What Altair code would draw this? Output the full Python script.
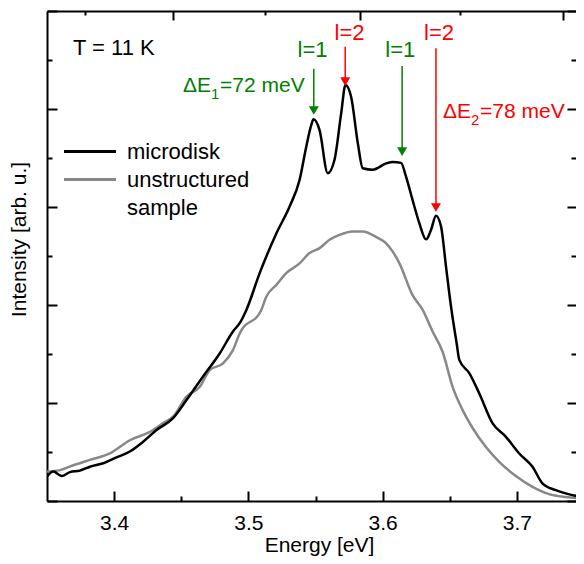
import altair as alt
import pandas as pd

# ---------------- data ----------------
energy_microdisk = [3.3500, 3.3547, 3.3609, 3.3671, 3.3745, 3.3820, 3.3919, 3.4018, 3.4117, 3.4216,
                    3.4316, 3.4439, 3.4539, 3.4662, 3.4786, 3.4885, 3.4935, 3.4985, 3.5084, 3.5208,
                    3.5307, 3.5381, 3.5431, 3.5468, 3.5485, 3.5530, 3.5591, 3.5641, 3.5691, 3.5723,
                    3.5765, 3.5815, 3.5852, 3.5926, 3.6026, 3.6075, 3.6137, 3.6174, 3.6223, 3.6273,
                    3.6323, 3.6360, 3.6397, 3.6435, 3.6472, 3.6509, 3.6551, 3.6571, 3.6645, 3.6719,
                    3.6818, 3.6918, 3.7017, 3.7116, 3.7190, 3.7290, 3.7413, 3.7493]
intensity_microdisk = [0.50, 0.60, 0.51, 0.59, 0.62, 0.70, 0.77, 0.89, 1.01, 1.21,
                       1.45, 1.69, 2.06, 2.54, 3.01, 3.46, 3.63, 3.90, 4.65, 5.46,
                       6.01, 6.55, 7.23, 7.67, 7.79, 7.57, 6.69, 6.96, 7.91, 8.49,
                       8.25, 7.30, 6.79, 6.76, 6.89, 6.92, 6.90, 6.62, 6.14, 5.67,
                       5.34, 5.53, 5.82, 5.60, 4.78, 3.97, 3.22, 2.88, 2.61, 2.20,
                       1.59, 1.31, 0.97, 0.70, 0.36, 0.22, 0.12, 0.08]

energy_unstructured = [3.3500, 3.3597, 3.3696, 3.3820, 3.3968, 3.4117, 3.4266, 3.4365, 3.4439, 3.4539,
                       3.4638, 3.4712, 3.4811, 3.4885, 3.4935, 3.5096, 3.5133, 3.5208, 3.5282, 3.5381,
                       3.5455, 3.5530, 3.5604, 3.5678, 3.5777, 3.5852, 3.5951, 3.6026, 3.6075, 3.6125,
                       3.6223, 3.6298, 3.6372, 3.6447, 3.6521, 3.6595, 3.6670, 3.6769, 3.6868, 3.6992,
                       3.7116, 3.7240, 3.7364, 3.7493]
intensity_unstructured = [0.60, 0.63, 0.73, 0.84, 0.97, 1.24, 1.41, 1.59, 1.72, 2.13,
                          2.33, 2.67, 2.81, 3.08, 3.42, 3.90, 4.17, 4.41, 4.65, 4.85,
                          5.06, 5.16, 5.33, 5.43, 5.50, 5.50, 5.39, 5.26, 5.09, 4.85,
                          4.20, 3.90, 3.46, 3.04, 2.33, 1.86, 1.49, 1.10, 0.80, 0.51,
                          0.29, 0.14, 0.08, 0.05]

series_names = ["microdisk", "unstructured sample"]

# axis ticks (the original frame runs past the right edge of the picture)
x_domain = [3.35, 3.744]
x_major = [3.4, 3.5, 3.6, 3.7]
x_minor = [3.45, 3.55, 3.65]
top_major_nm = [360, 346, 332]
top_minor_nm = [367, 353, 339]
y_major = [0, 2, 4, 6, 8, 10]
y_minor = [1, 3, 5, 7, 9]

# annotations: mode arrows
arrow_energy = [3.5487, 3.5721, 3.6145, 3.6397]
arrow_top = [8.82, 9.27, 8.88, 9.24]
arrow_tip = [7.88, 8.47, 7.04, 5.90]
arrow_color = ["#008000", "#ff0000", "#008000", "#ff0000"]
mode_label = ["l=1", "l=2", "l=1", "l=2"]
mode_label_energy = [3.5478, 3.5753, 3.6131, 3.6420]
mode_label_level = [9.20, 9.56, 9.20, 9.56]

# annotations: splitting labels
delta_energy = [3.4513, 3.6450]
delta_level = [8.35, 7.81]
delta_main = ["\u0394E", "\u0394E"]
delta_sub = ["1", "2"]
delta_rest = ["=72 meV", "=78 meV"]
delta_color = ["#008000", "#ff0000"]

temp_label = ["T = 11 K"]
temp_energy = [3.3693]
temp_level = [9.10]

# ---------------- tables ----------------
curves = pd.concat([
    pd.DataFrame({"energy": energy_microdisk, "intensity": intensity_microdisk, "series": series_names[0]}),
    pd.DataFrame({"energy": energy_unstructured, "intensity": intensity_unstructured, "series": series_names[1]}),
])
arrows = pd.DataFrame({"energy": arrow_energy, "top": arrow_top, "tip": arrow_tip, "color": arrow_color})
arrows["head"] = arrows["tip"] + 0.09
modes = pd.DataFrame({"energy": mode_label_energy, "level": mode_label_level, "text": mode_label,
                      "color": arrow_color})
deltas = pd.DataFrame({"energy": delta_energy, "level": delta_level, "main": delta_main,
                       "sub": delta_sub, "rest": delta_rest, "color": delta_color})
temp = pd.DataFrame({"energy": temp_energy, "level": temp_level, "text": temp_label})

FONT = "Liberation Sans"
W, H = 529, 490

x_scale = alt.Scale(domain=x_domain, nice=False, zero=False)
y_scale = alt.Scale(domain=[0, 10], nice=False, zero=False)


def tick_axis(orient, offset, values, size):
    return alt.Axis(orient=orient, offset=offset, values=values, ticks=True, tickSize=size,
                    tickColor="black", tickWidth=2, domain=False, labels=False, grid=False, title=None)


x_main = alt.Axis(orient="bottom", values=x_major, format=".1f", domain=True, domainColor="black",
                  domainWidth=2, ticks=False, tickSize=0, labels=True, labelFont=FONT, labelFontSize=21,
                  labelColor="black", labelPadding=11, grid=False, title="Energy [eV]", titleFont=FONT,
                  titleFontSize=21, titleFontWeight="normal", titleColor="black", titleX=272, titleY=50,
                  titleBaseline="alphabetic", titleAlign="center")
y_main = alt.Axis(orient="left", domain=True, domainColor="black", domainWidth=2, ticks=False, labels=False,
                  grid=False, title="Intensity [arb. u.]", titleFont=FONT, titleFontSize=21,
                  titleFontWeight="normal", titleColor="black", titleX=-27.5, titleY=228, titleAngle=270,
                  titleBaseline="middle", titleAlign="center")
x_top_domain = alt.Axis(orient="top", domain=True, domainColor="black", domainWidth=2, ticks=False,
                        labels=False, grid=False, title=None)

top_major_e = [round(1239.84 / v, 4) for v in top_major_nm]
top_minor_e = [round(1239.84 / v, 4) for v in top_minor_nm]

color_scale = alt.Scale(domain=series_names + ["sample"], range=["black", "#888888", "transparent"])
legend = alt.Legend(orient="none", legendX=32, legendY=129.5, title=None, symbolType="M-4,0L4,0",
                    symbolSize=169, symbolStrokeWidth=3, symbolOffset=0, labelFont=FONT, labelFontSize=22,
                    labelColor="black", labelOffset=26, rowPadding=6, padding=0,
                    labelExpr="datum.label == 'unstructured sample' ? 'unstructured' : datum.label")

gray_line = alt.Chart(curves).transform_filter(alt.datum.series == series_names[1]).mark_line(
    strokeWidth=2.5, interpolate="monotone", clip=True).encode(
    x=alt.X("energy:Q", scale=x_scale, axis=x_main),
    y=alt.Y("intensity:Q", scale=y_scale, axis=y_main),
    color=alt.Color("series:N", scale=color_scale, legend=legend),
)
black_line = alt.Chart(curves).transform_filter(alt.datum.series == series_names[0]).mark_line(
    strokeWidth=2.5, interpolate="monotone", clip=True).encode(
    x=alt.X("energy:Q", scale=x_scale, axis=x_top_domain),
    y=alt.Y("intensity:Q", scale=y_scale, axis=tick_axis("right", -W, y_major, 10)),
    color=alt.Color("series:N", scale=color_scale, legend=legend),
)
arrow_rules = alt.Chart(arrows).mark_rule(strokeWidth=1.5).encode(
    x=alt.X("energy:Q", scale=x_scale, axis=tick_axis("top", -H, x_major, 10)),
    y=alt.Y("top:Q", scale=y_scale, axis=tick_axis("right", -W, y_minor, 5)),
    y2="head:Q",
    color=alt.Color("color:N", scale=None),
)
arrow_heads = alt.Chart(arrows).mark_point(shape="triangle-down", filled=True, size=100, opacity=1).encode(
    x=alt.X("energy:Q", scale=x_scale, axis=tick_axis("top", -H, x_minor, 5)),
    y=alt.Y("head:Q", scale=y_scale, axis=tick_axis("left", -W, y_major, 9)),
    color=alt.Color("color:N", scale=None),
)
mode_text = alt.Chart(modes).mark_text(font=FONT, fontSize=22, align="center", baseline="middle").encode(
    x=alt.X("energy:Q", scale=x_scale, axis=tick_axis("bottom", -H, top_major_e, 9)),
    y=alt.Y("level:Q", scale=y_scale, axis=tick_axis("left", -W, y_minor, 5)),
    text="text:N",
    color=alt.Color("color:N", scale=None),
)
temp_text = alt.Chart(temp).mark_text(font=FONT, fontSize=22, align="left", baseline="alphabetic",
                                      color="black").encode(
    x=alt.X("energy:Q", scale=x_scale, axis=tick_axis("bottom", -H, top_minor_e, 4)),
    y=alt.Y("level:Q", scale=y_scale, axis=None),
    text="text:N",
)


def delta_layer(field, size, dx, dy):
    return alt.Chart(deltas).mark_text(font=FONT, fontSize=size, align="left", baseline="alphabetic",
                                       dx=dx, dy=dy).encode(
        x=alt.X("energy:Q", scale=x_scale, axis=None),
        y=alt.Y("level:Q", scale=y_scale, axis=None),
        text=f"{field}:N",
        color=alt.Color("color:N", scale=None),
    )


chart = alt.layer(
    gray_line, black_line, arrow_rules, arrow_heads, mode_text, temp_text,
    delta_layer("main", 21, 0, 0), delta_layer("sub", 15, 28, 7), delta_layer("rest", 21, 37, 0),
).resolve_axis(x="independent", y="independent").properties(
    width=W, height=H, autosize=alt.AutoSizeParams(type="none"),
    padding={"left": 39, "top": 3, "right": 0, "bottom": 55},
).configure_view(stroke=None)

chart.save("out.html", embed_options={"renderer": "svg", "actions": False})
